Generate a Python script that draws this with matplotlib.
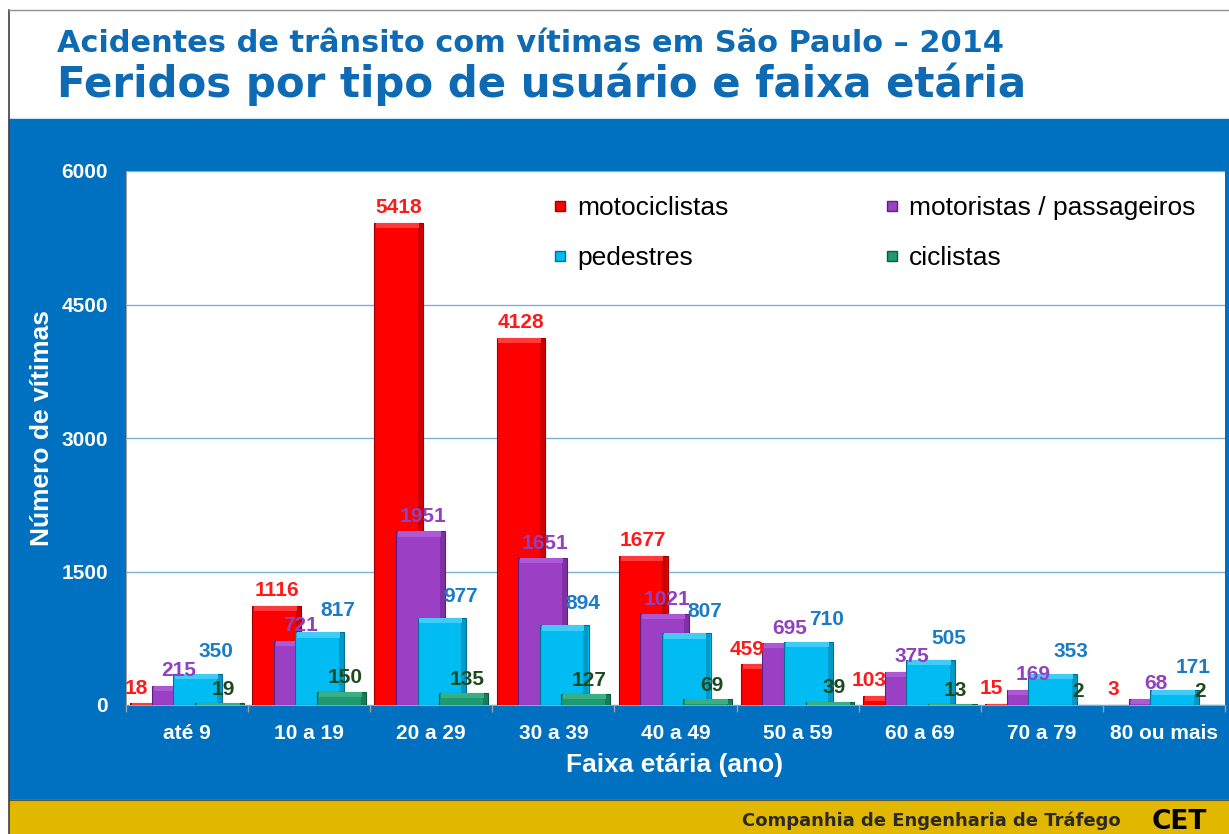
import numpy as np
import matplotlib
matplotlib.use('Agg')
import matplotlib.pyplot as plt
from matplotlib.patches import Rectangle
from matplotlib.lines import Line2D

# data
faixas = ['até 9', '10 a 19', '20 a 29', '30 a 39', '40 a 49',
          '50 a 59', '60 a 69', '70 a 79', '80 ou mais']
motociclistas = [18, 1116, 5418, 4128, 1677, 459, 103, 15, 3]
motoristas = [215, 721, 1951, 1651, 1021, 695, 375, 169, 68]
pedestres = [350, 817, 977, 894, 807, 710, 505, 353, 171]
ciclistas = [19, 150, 135, 127, 69, 39, 13, 2, 2]
series_names = ['motociclistas', 'motoristas / passageiros', 'pedestres', 'ciclistas']
y_ticks = [0, 1500, 3000, 4500, 6000]

W, H = 1229, 834
def fx(px): return px / W
def fy(py): return 1 - py / H

# colours: base, top highlight, dark edge, label colour
bar_cols = ['#ff0000', '#9b40c4', '#00bcf2', '#1f9a70']
top_cols = ['#ff3a3a', '#ad58d4', '#3fcdf8', '#38b086']
dark_cols = ['#9a0000', '#5c2080', '#006f96', '#0e5c40']
lab_cols = ['#ff1a1a', '#9040c0', '#1a7cc8', '#1c4a1c']
blue_bg = '#0070c0'

fig = plt.figure(figsize=(W / 100, H / 100), dpi=100)
fig.patch.set_facecolor('white')

# frame: blue panel, yellow footer, thin border lines
fig.patches.append(Rectangle((fx(9), fy(800)), 1, fy(119) - fy(800),
                             transform=fig.transFigure, color=blue_bg, zorder=-5))
fig.patches.append(Rectangle((fx(9), 0), 1, fy(800), transform=fig.transFigure,
                             color='#e2b700', zorder=-5))
fig.add_artist(Line2D([fx(9), 1], [fy(800), fy(800)], color='#5a5a3a', lw=0.8, zorder=-4))
fig.add_artist(Line2D([fx(8.5), fx(8.5)], [0, fy(10)], color='#404040', lw=1.2, zorder=-4))
fig.add_artist(Line2D([fx(8.5), 1], [fy(10), fy(10)], color='#909090', lw=1.0, zorder=-4))

ax = fig.add_axes([fx(126), fy(705), fx(1225) - fx(126), fy(171) - fy(705)])
ax.set_zorder(1)
ax.set_facecolor('white')

x = np.arange(len(faixas))
offsets = [-0.265, -0.088, 0.088, 0.265]
width = 0.40
lab_dx = [0.0, 0.02, 0.15, 0.03]
lab_dy = [4, 4, 9, 3]
top_h = 60

all_series = [motociclistas, motoristas, pedestres, ciclistas]
for i, vals in enumerate(all_series):
    vals = np.array(vals)
    xs = x + offsets[i]
    z = 3 + i
    ax.bar(xs, vals, width, color=bar_cols[i], edgecolor=dark_cols[i],
           linewidth=0.8, zorder=z)
    # right side shading
    ax.bar(xs + width / 2 - 0.022, vals, 0.04, color=dark_cols[i], alpha=0.45,
           linewidth=0, zorder=z + 0.1)
    # top bevel
    th = np.minimum(vals, top_h)
    ax.bar(xs - 0.01, th, width - 0.05, bottom=vals - th, color=top_cols[i],
           linewidth=0, zorder=z + 0.2)
    for xi, v in zip(xs, vals):
        dx = lab_dx[i]
        if i == 0 and v < 500:
            dx = -0.15
        ax.annotate(str(v), (xi + dx, v), xytext=(0, lab_dy[i]),
                    textcoords='offset points', ha='center', va='bottom',
                    fontsize=15, fontweight='bold', color=lab_cols[i],
                    family='Liberation Sans', zorder=10)

ax.set_xlim(-0.5, len(faixas) - 0.5)
ax.set_ylim(0, 6000)
ax.set_yticks(y_ticks)
ax.set_yticklabels([str(t) for t in y_ticks])
ax.yaxis.grid(True, color='#7fb0dc', lw=1.0)
ax.set_axisbelow(True)
ax.set_xticks(x)
ax.set_xticklabels(faixas)
ax.set_xticks(np.arange(-0.5, len(faixas)), minor=True)
ax.tick_params(axis='x', which='major', length=0, pad=14, colors='white',
               labelsize=15)
ax.tick_params(axis='x', which='minor', length=5, color='#a0a0a0', width=1)
ax.tick_params(axis='y', length=0, pad=13, colors='white', labelsize=15)
for lab in ax.get_xticklabels() + ax.get_yticklabels():
    lab.set_fontweight('bold')
    lab.set_family('Liberation Sans')
for s in ['top', 'right']:
    ax.spines[s].set_visible(False)
ax.spines['left'].set_color('#a0a0a0')
ax.spines['bottom'].set_color('#a0a0a0')

fig.text(fx(675), fy(765), 'Faixa etária (ano)', ha='center', va='center',
         color='white', fontsize=19, fontweight='bold', family='Liberation Sans')
fig.text(fx(42), fy(428), 'Número de vítimas', ha='center', va='center',
         rotation=90, color='white', fontsize=19, fontweight='bold',
         family='Liberation Sans')

# legend, row-wise order (matplotlib fills columns first)
handles = [Line2D([], [], marker='s', ls='none', markersize=7,
                  markerfacecolor=bar_cols[i], markeredgecolor=dark_cols[i])
           for i in range(4)]
order = [0, 2, 1, 3]
leg = ax.legend([handles[k] for k in order], [series_names[k] for k in order],
                ncol=2, frameon=False, loc='upper left',
                bbox_to_anchor=(fx(552), fy(196)), bbox_transform=fig.transFigure,
                borderpad=0, borderaxespad=0, handlelength=0.6,
                handletextpad=0.35, columnspacing=5.9, labelspacing=1.0,
                prop={'family': 'Liberation Sans', 'size': 19})
leg.set_zorder(20)

# titles, fitted to the width in the picture
def fit_text(px, py, s, width_px, **kw):
    t = fig.text(fx(px), fy(py), s, **kw)
    r = fig.canvas.get_renderer()
    w = t.get_window_extent(r).width
    t.set_fontsize(t.get_fontsize() * width_px / w)
    return t

fit_text(57, 52, 'Acidentes de trânsito com vítimas em São Paulo – 2014', 948,
         va='baseline', ha='left', color='#0f6ab4', fontsize=20,
         fontweight='bold', family='DejaVu Sans')
fit_text(57, 97, 'Feridos por tipo de usuário e faixa etária', 973,
         va='baseline', ha='left', color='#0f6ab4', fontsize=26,
         fontweight='bold', family='DejaVu Sans')

fig.text(fx(1121), fy(826), 'Companhia de Engenharia de Tráfego', ha='right',
         va='baseline', color='#2a2a2a', fontsize=13, fontweight='bold',
         family='DejaVu Sans')
fig.text(fx(1152), fy(829), 'CET', ha='left', va='baseline', color='black',
         fontsize=19, fontweight='heavy', family='DejaVu Sans')

fig.savefig('out.png', dpi=100)
